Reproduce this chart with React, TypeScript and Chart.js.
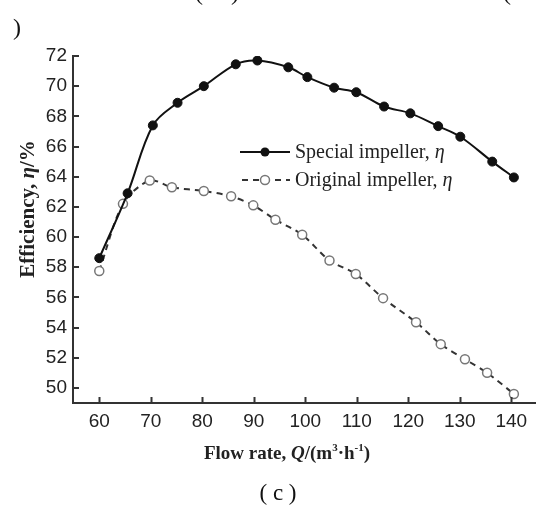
import React, { useEffect, useRef } from "react";
import { Chart, registerables } from "chart.js";
Chart.register(...registerables);

// Flow rate Q (m3/h) and efficiency (%)
const specialFlow = [60, 65.5, 70.4, 75.2, 80.3, 86.5, 90.7, 96.7, 100.4, 105.6, 109.9, 115.3, 120.4, 125.8, 130.1, 136.3, 140.5];
const specialEff = [58.6, 62.9, 67.4, 68.9, 70.0, 71.45, 71.7, 71.25, 70.6, 69.9, 69.6, 68.65, 68.2, 67.35, 66.65, 65.0, 63.95];
const originalFlow = [60, 64.6, 69.8, 74.1, 80.3, 85.6, 89.9, 94.2, 99.4, 104.7, 109.8, 115.1, 121.5, 126.3, 131.0, 135.3, 140.5];
const originalEff = [57.75, 62.2, 63.75, 63.3, 63.05, 62.7, 62.1, 61.15, 60.15, 58.45, 57.55, 55.95, 54.35, 52.9, 51.9, 51.0, 49.6];
const xTicks = [60, 70, 80, 90, 100, 110, 120, 130, 140];
const yTicks = [50, 52, 54, 56, 58, 60, 62, 64, 66, 68, 70, 72];
const seriesNames = ["Special impeller, ", "Original impeller, "];
const seriesSymbol = "η";
const yTitleRuns = [
  { t: "Efficiency, ", s: "normal" },
  { t: "η", s: "italic" },
  { t: "/%", s: "normal" },
];
const caption = "( c )";

const SERIF = "'Liberation Serif', 'Times New Roman', serif";
const SANS = "'Liberation Sans', Arial, sans-serif";

type Run = { t: string; font: string; dy?: number };

function drawRuns(ctx: CanvasRenderingContext2D, runs: Run[], cx: number, y: number, align: "center" | "left" = "center") {
  let total = 0;
  for (const r of runs) {
    ctx.font = r.font;
    total += ctx.measureText(r.t).width;
  }
  let x = align === "center" ? cx - total / 2 : cx;
  ctx.textAlign = "left";
  ctx.textBaseline = "alphabetic";
  for (const r of runs) {
    ctx.font = r.font;
    ctx.fillText(r.t, x, y + (r.dy || 0));
    x += ctx.measureText(r.t).width;
  }
}

const decorPlugin = {
  id: "decor",
  afterDraw(chart: any) {
    const ctx: CanvasRenderingContext2D = chart.ctx;
    const { left, bottom } = chart.chartArea;
    const xs = chart.scales.x;
    const ys = chart.scales.y;
    ctx.save();
    // inside tick marks
    ctx.strokeStyle = "#333";
    ctx.lineWidth = 2;
    ctx.beginPath();
    for (const v of xTicks) {
      const px = Math.round(xs.getPixelForValue(v)) + 0.5;
      ctx.moveTo(px, bottom);
      ctx.lineTo(px, bottom - 6);
    }
    for (const v of yTicks) {
      const py = Math.round(ys.getPixelForValue(v));
      ctx.moveTo(left, py);
      ctx.lineTo(left + 6, py);
    }
    ctx.stroke();

    ctx.fillStyle = "#222";
    // y title
    ctx.save();
    ctx.translate(34, 209);
    ctx.rotate(-Math.PI / 2);
    drawRuns(
      ctx,
      yTitleRuns.map((r) => ({ t: r.t, font: `${r.s === "italic" ? "italic " : ""}bold 21px ${SERIF}` })),
      0,
      0
    );
    ctx.restore();

    // x title
    const b = `bold 19px ${SERIF}`;
    const bs = `bold 11px ${SERIF}`;
    drawRuns(
      ctx,
      [
        { t: "Flow rate, ", font: b },
        { t: "Q", font: `italic bold 19px ${SERIF}` },
        { t: "/(m", font: b },
        { t: "3", font: bs, dy: -8 },
        { t: "·h", font: b },
        { t: "-1", font: bs, dy: -8 },
        { t: ")", font: b },
      ],
      287,
      459
    );

    // legend
    const legendY = [152, 180];
    const baseY = [158, 186];
    for (let i = 0; i < 2; i++) {
      const ly = legendY[i];
      ctx.save();
      ctx.lineWidth = 2;
      ctx.strokeStyle = i === 0 ? "#111" : "#333";
      ctx.setLineDash(i === 0 ? [] : [6, 5]);
      ctx.beginPath();
      ctx.moveTo(i === 0 ? 240 : 242, ly);
      ctx.lineTo(290, ly);
      ctx.stroke();
      ctx.setLineDash([]);
      ctx.beginPath();
      ctx.arc(265, ly, 4.5, 0, Math.PI * 2);
      if (i === 0) {
        ctx.fillStyle = "#111";
        ctx.fill();
      } else {
        ctx.fillStyle = "#fff";
        ctx.fill();
        ctx.strokeStyle = "#777";
        ctx.lineWidth = 1.5;
        ctx.stroke();
      }
      ctx.restore();
      ctx.fillStyle = "#222";
      drawRuns(
        ctx,
        [
          { t: seriesNames[i], font: `20px ${SERIF}` },
          { t: seriesSymbol, font: `italic 20px ${SERIF}` },
        ],
        295,
        baseY[i],
        "left"
      );
    }

    // caption and fragments of neighbouring figure captions
    ctx.fillStyle = "#111";
    ctx.font = `23px ${SERIF}`;
    ctx.textAlign = "center";
    ctx.fillText(caption, 278, 500);
    ctx.font = `24px ${SERIF}`;
    ctx.textAlign = "left";
    ctx.fillText(")", 13, 35);
    ctx.fillText("(", 195, 0);
    ctx.fillText(")", 231, 0);
    ctx.fillText("(", 503, 0);
    ctx.restore();
  },
};

export default function App() {
  const ref = useRef<HTMLCanvasElement | null>(null);
  useEffect(() => {
    if (!ref.current) return;
    const chart = new Chart(ref.current, {
      type: "line",
      data: {
        datasets: [
          {
            label: seriesNames[0] + seriesSymbol,
            data: specialFlow.map((x, i) => ({ x, y: specialEff[i] })),
            borderColor: "#111",
            backgroundColor: "#111",
            borderWidth: 2,
            pointRadius: 4.5,
            pointBackgroundColor: "#111",
            pointBorderColor: "#111",
            pointBorderWidth: 1,
            tension: 0.35,
            fill: false,
          },
          {
            label: seriesNames[1] + seriesSymbol,
            data: originalFlow.map((x, i) => ({ x, y: originalEff[i] })),
            borderColor: "#333",
            backgroundColor: "#fff",
            borderWidth: 2,
            borderDash: [6, 5],
            pointRadius: 4.5,
            pointBackgroundColor: "#fff",
            pointBorderColor: "#777",
            pointBorderWidth: 1.5,
            tension: 0.3,
            fill: false,
          },
        ],
      },
      options: {
        animation: false,
        responsive: true,
        maintainAspectRatio: false,
        layout: { padding: { left: 0, top: 56, right: 12, bottom: 0 } },
        plugins: { legend: { display: false }, tooltip: { enabled: false }, title: { display: false } },
        scales: {
          x: {
            type: "linear",
            min: 54.9,
            max: 144.6,
            grid: { display: false, drawTicks: false },
            border: { display: true, color: "#333", width: 2 },
            afterBuildTicks: (s: any) => {
              s.ticks = xTicks.map((v) => ({ value: v }));
            },
            afterFit: (s: any) => {
              s.height = 125;
            },
            ticks: { color: "#222", font: { family: SANS, size: 19 }, padding: 7 },
          },
          y: {
            type: "linear",
            min: 49,
            max: 72,
            grid: { display: false, drawTicks: false },
            border: { display: true, color: "#333", width: 2 },
            afterBuildTicks: (s: any) => {
              s.ticks = yTicks.map((v) => ({ value: v }));
            },
            afterFit: (s: any) => {
              s.width = 73;
            },
            ticks: { color: "#222", font: { family: SANS, size: 19 }, padding: 6 },
          },
        },
      },
      plugins: [decorPlugin],
    } as any);
    return () => chart.destroy();
  }, []);
  return (
    <div style={{ position: "absolute", left: 0, top: 0, width: 547, height: 528, background: "#fff" }}>
      <canvas ref={ref} />
    </div>
  );
}
